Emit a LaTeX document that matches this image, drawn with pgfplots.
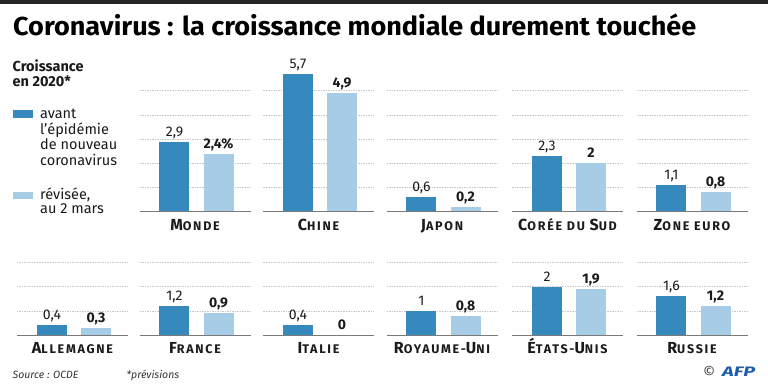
\documentclass[border=0pt]{standalone}
\usepackage{pgfplots}
\pgfplotsset{compat=1.18}
\usepackage{fontspec}
\setmainfont{Fira Sans}
\usepackage{graphicx}
\definecolor{dark}{HTML}{3589BD}
\definecolor{light}{HTML}{A6CDE5}
\definecolor{gridc}{HTML}{C8C8C8}
\definecolor{basec}{HTML}{7A7A7A}
\definecolor{afp}{HTML}{1F5CA9}
\definecolor{txt}{HTML}{1A1A1A}
\newcommand\B[1]{{\fontsize{16}{16}\selectfont\addfontfeature{LetterSpace=12}#1}}
\newcommand\s[1]{{\fontsize{12.5}{12.5}\selectfont\addfontfeature{LetterSpace=14}#1}}
\newcommand\panel[9]{%
\begin{axis}[at={(#1pt,#2pt)}, anchor=south west, scale only axis, width=111pt, height=#4pt,
 xmin=-0.795, xmax=1.727, ymin=0, ymax=#3, clip=false,
 axis line style={draw=none}, xtick=\empty, ytick={1,...,#3}, yticklabels={}, major tick length=0pt,
 ymajorgrids, grid style={gridc, line width=0.6pt, dash pattern=on 1.5pt off 1pt},
]
\addplot[ybar, bar width=30pt, bar shift=0pt, fill=dark, draw=none, nodes near coords, point meta=explicit symbolic,
 every node near coord/.append style={font=\fontsize{14}{14}\selectfont, anchor=base, yshift=5.5pt, inner sep=0pt, text=txt}] coordinates {(0,#5) [#6]};
\addplot[ybar, bar width=30pt, bar shift=0pt, fill=light, draw=none, nodes near coords, point meta=explicit symbolic,
 every node near coord/.append style={font=\fontsize{14}{14}\selectfont\bfseries, anchor=base, yshift=5.5pt, inner sep=0pt, text=txt}] coordinates {(1,#7) [#8]};
\draw[basec, line width=0.8pt] (rel axis cs:0,0) -- (rel axis cs:1,0);
\node[anchor=base, inner sep=0pt, font=\bfseries, text=txt] at ([yshift=-18.5pt]rel axis cs:0.5,0) {#9};
\end{axis}}
\begin{document}
\begin{tikzpicture}
\path[use as bounding box, fill=white] (0,0) rectangle (768pt,-391pt);
\fill[black!85] (0,0) rectangle (768pt,-4pt);
\node[anchor=base west, inner sep=0pt, text=black] at (13pt,-35pt) {\resizebox{683pt}{\height}{\fontsize{26}{26}\selectfont\bfseries Coronavirus : la croissance mondiale durement touchée}};
% legend
\begin{scope}[every node/.style={anchor=base west, inner sep=0pt, text=txt, font=\fontsize{14.5}{15}\selectfont}]
\node[font=\fontsize{14.5}{15}\selectfont\bfseries] at (12.5pt,-71pt) {Croissance};
\node[font=\fontsize{14.5}{15}\selectfont\bfseries] at (12.5pt,-86pt) {en 2020*};
\fill[dark] (13pt,-110pt) rectangle (33pt,-118.3pt);
\node at (40pt,-118.3pt) {avant};
\node at (40pt,-134pt) {l’épidémie};
\node at (40pt,-149.5pt) {de nouveau};
\node at (40pt,-165pt) {coronavirus};
\fill[light] (13pt,-191.7pt) rectangle (33pt,-199pt);
\node at (40pt,-199pt) {révisée,};
\node at (40pt,-213.5pt) {au 2 mars};
\node[font=\fontsize{10.5}{12}\selectfont\itshape, text=black!80] at (12.5pt,-378pt) {Source : OCDE};
\node[font=\fontsize{10.5}{12}\selectfont\itshape, text=black!80] at (126.5pt,-378pt) {*prévisions};
\node[font=\fontsize{15}{15}\selectfont, text=black!75] at (703pt,-377pt) {©};
\node[text=afp] at (722pt,-376.5pt) {\resizebox{33pt}{9.5pt}{\bfseries\itshape AFP}};
\end{scope}
% row 1
\panel{139.5}{-211.7}{5}{121}{2.9}{2,9}{2.4}{2,4\%}{\B{M}\s{ONDE}}
\panel{263}{-211.7}{5}{121}{5.7}{5,7}{4.9}{4,9}{\B{C}\s{HINE}}
\panel{386.5}{-211.7}{5}{121}{0.6}{0,6}{0.2}{0,2}{\B{J}\s{APON}}
\panel{512}{-211.7}{5}{121}{2.3}{2,3}{2}{2}{\B{C}\s{ORÉE DU }\B{S}\s{UD}}
\panel{636.5}{-211.7}{5}{121}{1.1}{1,1}{0.8}{0,8}{\B{Z}\s{ONE EURO}}
% row 2
\panel{17}{-335}{3}{72.6}{0.4}{0,4}{0.3}{0,3}{\B{A}\s{LLEMAGNE}}
\panel{139.5}{-335}{3}{72.6}{1.2}{1,2}{0.9}{0,9}{\B{F}\s{RANCE}}
\panel{263}{-335}{3}{72.6}{0.4}{0,4}{0}{0}{\B{I}\s{TALIE}}
\panel{386.5}{-335}{3}{72.6}{1}{1}{0.8}{0,8}{\B{R}\s{OYAUME-}\B{U}\s{NI}}
\panel{512}{-335}{3}{72.6}{2}{2}{1.9}{1,9}{\B{É}\s{TATS-}\B{U}\s{NIS}}
\panel{636.5}{-335}{3}{72.6}{1.6}{1,6}{1.2}{1,2}{\B{R}\s{USSIE}}
\end{tikzpicture}
\end{document}
